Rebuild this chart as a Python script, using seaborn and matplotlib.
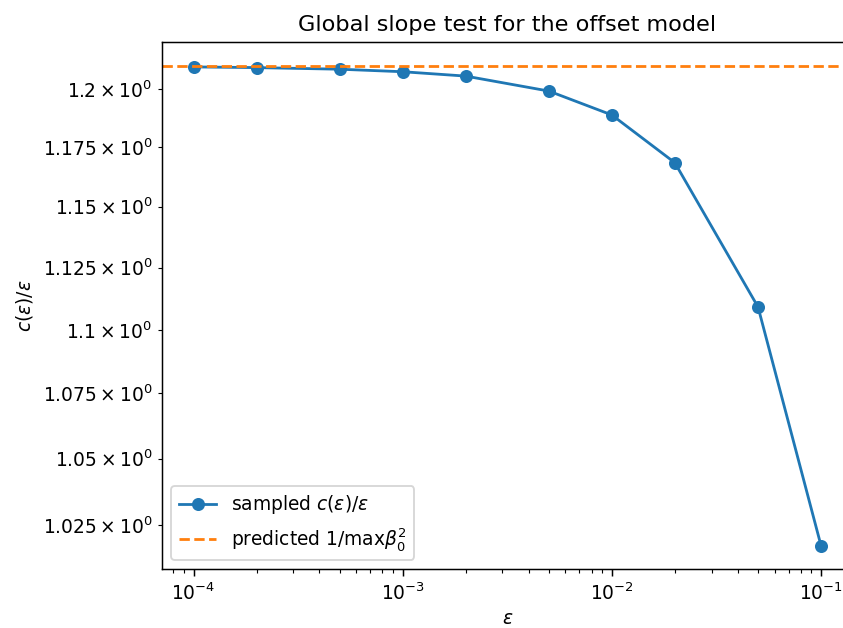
import matplotlib
matplotlib.use("Agg")
import matplotlib.pyplot as plt
import seaborn as sns
import numpy as np

# Sampled tolerance values and the measured ratio c(eps)/eps
eps = [1e-4, 2e-4, 5e-4, 1e-3, 2e-3, 5e-3, 1e-2, 2e-2, 5e-2, 1e-1]
ratio = [1.2095, 1.2092, 1.2085, 1.2074, 1.2055, 1.1990, 1.1887, 1.1684, 1.1091, 1.0176]

# Predicted asymptote 1/max beta_0^2
predicted = 1.2098

DPI = 134
fig = plt.figure(figsize=(843 / DPI, 628 / DPI), dpi=DPI)
ax = fig.add_axes([0.1924, 0.0932, 0.8187, 0.8395])

sns.lineplot(x=eps, y=ratio, ax=ax, marker="o", color="C0",
             markersize=6, markeredgecolor="C0", markeredgewidth=1,
             linewidth=1.5, label=r"sampled $c(\varepsilon)/\varepsilon$")
ax.axhline(predicted, color="C1", linestyle="--", linewidth=1.5,
           label=r"predicted $1/\max\beta_0^2$")

ax.set_xscale("log")
ax.set_yscale("log")
ax.set_xlabel(r"$\varepsilon$", labelpad=2.5)
ax.set_ylabel(r"$c(\varepsilon)/\varepsilon$")
ax.set_title("Global slope test for the offset model")
ax.legend(loc="lower left")

fig.savefig("out.png", dpi=DPI)
